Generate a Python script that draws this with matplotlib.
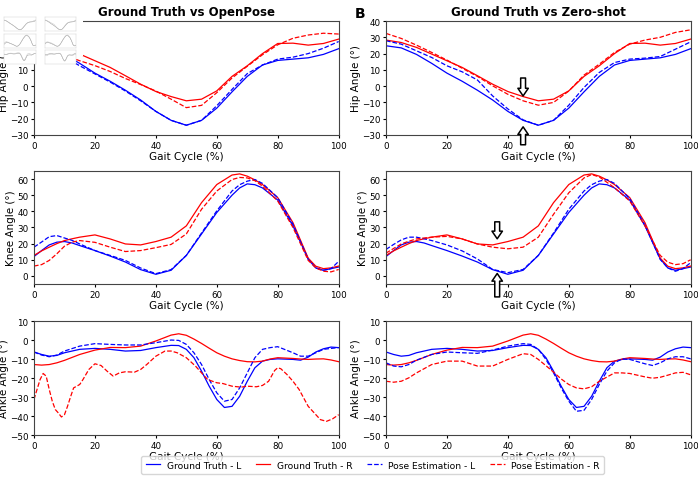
import matplotlib
matplotlib.use("Agg")
import matplotlib.pyplot as plt
from matplotlib.ticker import MultipleLocator

# ---- data ----
hip_x = [0, 5, 10, 15, 20, 25, 30, 35, 40, 45, 50, 55, 60, 65, 70, 75, 80, 85, 90, 95, 100]
hip_gt_l = [24.8, 23.5, 19.5, 14, 8, 3, -2.5, -8.5, -15.5, -21, -24, -21, -13.5, -3.5, 6, 13, 15.8, 16.6, 17.4, 19.5, 23]
hip_gt_r = [28.3, 26.8, 23.8, 19.7, 15.6, 11.5, 6.4, 1.2, -3.3, -6.4, -9, -8, -2.9, 6, 12.5, 20, 26.2, 26.4, 25.2, 26.2, 28.9]
hip_op_l = [27, 24, 18, 12.5, 7.5, 2.5, -3, -9, -15.5, -21, -24, -21, -12, -2, 7.7, 13, 16.6, 17.8, 20, 23.3, 27.4]
hip_op_r = [28, 24, 19, 15.6, 12.6, 9, 4.7, 1, -3, -8, -13.2, -11.8, -4, 5, 12.2, 19.3, 25.4, 29.4, 31.4, 32.5, 32]
hip_zs_l = [27.9, 25.8, 21.7, 17.6, 12.5, 8.8, 3.8, -6, -14, -20.7, -24, -21, -11.7, -0.8, 8.4, 14.5, 16.6, 17.2, 18.2, 22.7, 27.2]
hip_zs_r = [32.4, 29.3, 25.2, 20.7, 16, 11, 6, 0.2, -5, -9, -11.7, -10, -3, 6.8, 13.5, 20.7, 25.8, 28.3, 30, 33, 34.6]

knee_x = [0, 2.5, 5, 7.5, 10, 12.5, 15, 20, 25, 30, 35, 40, 45, 50, 55, 60, 65, 67.5, 70, 72.5, 75, 80, 85, 90, 92.5, 95, 97.5, 100]
knee_gt_l = [12, 15.7, 19.2, 20.9, 21.3, 20.4, 18.8, 15.7, 12.3, 8.6, 3.9, 1.0, 3.5, 12.7, 26, 39.3, 50, 54.5, 57, 56.5, 54.5, 47, 31, 10.6, 4.9, 3.5, 4.5, 5.5]
knee_gt_r = [12.7, 15.5, 17.8, 20, 21.9, 23, 24, 25.4, 22.9, 19.8, 19.2, 21.3, 24, 31, 45.4, 56.6, 62.5, 63.2, 61.8, 59.5, 56.6, 48.5, 33, 11, 6, 4.5, 5, 6.1]
knee_op_l = [17.8, 21, 24.3, 25, 23.5, 22, 19.8, 15.7, 12.7, 9.6, 4.9, 1.4, 3.9, 12.7, 26.6, 40.3, 52.6, 56.5, 58.7, 59.7, 57.3, 48.5, 32, 10.2, 5, 3.5, 4.5, 9]
knee_op_r = [6.1, 7, 9.6, 13.7, 18.4, 20.9, 21.9, 20.8, 17.8, 15.1, 15.7, 17.5, 19.5, 26, 41.3, 52.6, 59.7, 61, 60.7, 59, 55.6, 46.4, 30, 9.6, 5, 2.9, 2.5, 4]
knee_zs_l = [16.4, 19.5, 22.3, 24, 24, 23, 21.9, 19.2, 15.5, 10.5, 4, 2, 4, 12.7, 26.6, 41.3, 52.6, 56.5, 58.7, 59.7, 57.3, 47.9, 31.5, 10.2, 5, 2.9, 4.5, 8.2]
knee_zs_r = [14.1, 17, 19.8, 21.5, 22.9, 23.5, 24, 24.5, 22.9, 19.8, 17.8, 16.8, 17.8, 24, 38.2, 51.5, 60.7, 62.8, 61.3, 58, 54.6, 46.4, 31, 12.7, 8.5, 7, 7.6, 10]

ank_x = [0, 2.5, 5, 7.5, 10, 15, 20, 25, 30, 35, 40, 45, 47.5, 50, 52.5, 55, 57.5, 60, 62.5, 65, 67.5, 70, 72.5, 75, 77.5, 80, 85, 87.5, 90, 92.5, 95, 97.5, 100]
ank_gt_l = [-6.3, -7.6, -8.5, -8.1, -6.7, -4.9, -4.4, -4.9, -5.8, -5.5, -4, -2.8, -2.9, -4.9, -9.3, -16.4, -24.3, -31.3, -35.5, -34.9, -29.6, -21.7, -14.6, -11.1, -10.2, -9.9, -10.2, -10.6, -9, -6.3, -4.6, -3.7, -4]
ank_gt_r = [-12.9, -13.2, -12.9, -12, -10.7, -7.6, -5.3, -3.9, -4, -3.2, -0.5, 2.6, 3.3, 2.5, 0.5, -1.8, -4.3, -6.7, -8.5, -9.9, -10.8, -11.4, -11.5, -11.1, -10, -9.3, -9.7, -10, -10.2, -10, -9.9, -10.5, -11.4]
ank_op_l = [-6.3, -7.9, -8.8, -7.9, -5.8, -3.2, -1.9, -2.3, -2.6, -2.6, -1.4, 0, -0.2, -2.3, -6.7, -12.9, -20.8, -27.8, -32.2, -31.3, -25.2, -17.3, -9.3, -4.9, -4, -3.5, -6.7, -8.5, -8.5, -6.7, -4.9, -4.4, -4]
ank_zs_l = [-12, -13.7, -14.1, -12.9, -10.6, -7.6, -6.3, -6.7, -7, -5.3, -3.2, -1.9, -2.3, -4.9, -10.2, -17.3, -25.2, -32.2, -37.5, -37, -31.3, -23.4, -16.4, -12, -9.9, -10.2, -12.5, -13.4, -12, -9.9, -8.8, -8.8, -9.9]
ank_zs_r = [-21.7, -22.2, -21.7, -19.9, -17.3, -12.9, -11.1, -11.1, -13.7, -13.7, -10.2, -7.2, -7.6, -10.2, -13.5, -16.9, -20.5, -23.4, -25.2, -25.7, -24.6, -21.7, -19.5, -17.3, -17.3, -17.6, -19.4, -20.1, -19.6, -18.5, -17.3, -17, -18.3]

ank_op_r_x = [0, 1, 2, 3, 4, 5, 6, 7, 8, 9, 10, 11, 12, 13, 15, 16, 18, 20, 22, 24, 26, 28, 30, 33, 35, 37, 40, 43, 45, 47, 50, 53, 55, 57, 60, 62, 65, 68, 70, 73, 75, 77, 79, 80, 81, 83, 85, 87, 90, 92, 94, 96, 98, 100]
ank_op_r = [-31.3, -26, -20.8, -17.6, -19, -26, -32.2, -36.6, -38.4, -40.5, -39.3, -34.9, -29.9, -25.2, -23.4, -21, -15.5, -12.5, -13.4, -16.4, -19, -17.3, -16.7, -16.9, -15.5, -12.9, -8.5, -5.8, -5.8, -6.7, -9.3, -13.7, -17.3, -20.8, -22.5, -22.9, -24.3, -24.8, -24.3, -24.6, -23.9, -21.7, -16, -14.6, -15.1, -18.1, -21.7, -26, -34.9, -38.4, -41.9, -42.8, -41.5, -39.3]

titles = ["Ground Truth vs OpenPose", "Ground Truth vs Zero-shot"]
ylabels = ["Hip Angle (°)", "Knee Angle (°)", "Ankle Angle (°)"]
ylims = [(-30, 40), (-5, 65), (-50, 10)]
labels = ["Ground Truth - L", "Ground Truth - R", "Pose Estimation - L", "Pose Estimation - R"]

BLUE, RED = "blue", "red"

plt.rcParams.update({
    "font.size": 7,
    "axes.edgecolor": "#444444",
    "xtick.major.size": 2.5,
    "ytick.major.size": 2.5,
    "xtick.labelsize": 6.3,
    "ytick.labelsize": 6.3,
    "axes.labelsize": 7.5,
})

fig = plt.figure(figsize=(6.98, 4.85), dpi=100)

lefts = [0.0487, 0.553]
width = 0.4365
rows = [(0.7196, 0.235), (0.4124, 0.233), (0.101, 0.235)]

panels = [
    [(hip_x, hip_gt_l, hip_gt_r, hip_x, hip_op_l, hip_x, hip_op_r),
     (hip_x, hip_gt_l, hip_gt_r, hip_x, hip_zs_l, hip_x, hip_zs_r)],
    [(knee_x, knee_gt_l, knee_gt_r, knee_x, knee_op_l, knee_x, knee_op_r),
     (knee_x, knee_gt_l, knee_gt_r, knee_x, knee_zs_l, knee_x, knee_zs_r)],
    [(ank_x, ank_gt_l, ank_gt_r, ank_x, ank_op_l, ank_op_r_x, ank_op_r),
     (ank_x, ank_gt_l, ank_gt_r, ank_x, ank_zs_l, ank_x, ank_zs_r)],
]

axes = {}
for r, (bottom, height) in enumerate(rows):
    for c in range(2):
        ax = fig.add_axes([lefts[c], bottom, width, height])
        gx, gl, gr, lx, el, rx, er = panels[r][c]
        ax.plot(gx, gl, color=BLUE, lw=0.9, label=labels[0])
        ax.plot(gx, gr, color=RED, lw=0.9, label=labels[1])
        ax.plot(lx, el, color=BLUE, lw=0.9, ls="--", label=labels[2])
        ax.plot(rx, er, color=RED, lw=0.9, ls="--", label=labels[3])
        ax.set_xlim(0, 100)
        ax.set_ylim(*ylims[r])
        ax.yaxis.set_major_locator(MultipleLocator(10))
        ax.xaxis.set_major_locator(MultipleLocator(20))
        ax.set_xlabel("Gait Cycle (%)", labelpad=1)
        ax.set_ylabel(ylabels[r], labelpad=0.5)
        ax.tick_params(pad=1.5)
        if r == 0:
            ax.set_title(titles[c], fontsize=8.5, fontweight="bold", pad=4)
        axes[(r, c)] = ax

# hollow arrows in the zero-shot column
arrow_kw = dict(arrowstyle="simple,head_length=0.55,head_width=0.75,tail_width=0.35",
                fc="white", ec="black", lw=1.1, shrinkA=0, shrinkB=0, mutation_scale=10)
ax = axes[(0, 1)]
ax.annotate("", xy=(45, -6), xytext=(45, 5), arrowprops=arrow_kw, annotation_clip=False)
ax.annotate("", xy=(45, -25), xytext=(45, -36), arrowprops=arrow_kw, annotation_clip=False)
ax = axes[(1, 1)]
ax.annotate("", xy=(36.5, 23), xytext=(36.5, 33.5), arrowprops=arrow_kw, annotation_clip=False)
ax.annotate("", xy=(36.5, 1.5), xytext=(36.5, -13), arrowprops=arrow_kw, annotation_clip=False)

fig.text(0.508, 0.985, "B", fontsize=10, fontweight="bold", va="top", ha="left")

handles, labs = axes[(0, 0)].get_legend_handles_labels()
fig.legend(handles, labs, loc="center", bbox_to_anchor=(0.534, 0.039), ncol=4,
           fontsize=6.6, handlelength=1.6, handletextpad=0.7, columnspacing=1.6,
           borderpad=0.5, frameon=True)

# small pasted thumbnail of the figure in the top-left corner
thumb = fig.add_axes([0, 0.882, 0.119, 0.118], zorder=10)
thumb.set_facecolor("white")
thumb.set_xticks([])
thumb.set_yticks([])
for s in thumb.spines.values():
    s.set_visible(False)
mini_w, mini_h = 0.045, 0.028
for r in range(3):
    for c in range(2):
        mx = 0.006 + c * 0.058
        my = 0.968 - (r + 1) * 0.034
        m = fig.add_axes([mx, my, mini_w, mini_h], zorder=11)
        gx, gl, gr, lx, el, rx, er = panels[r][c]
        m.plot(gx, gl, color="#999999", lw=0.35)
        m.plot(lx, el, color="#bbbbbb", lw=0.3)
        m.set_xlim(0, 100)
        m.set_ylim(*ylims[r])
        m.set_xticks([])
        m.set_yticks([])
        for s in m.spines.values():
            s.set_color("#cccccc")
            s.set_linewidth(0.3)

fig.savefig("out.png", dpi=100)
